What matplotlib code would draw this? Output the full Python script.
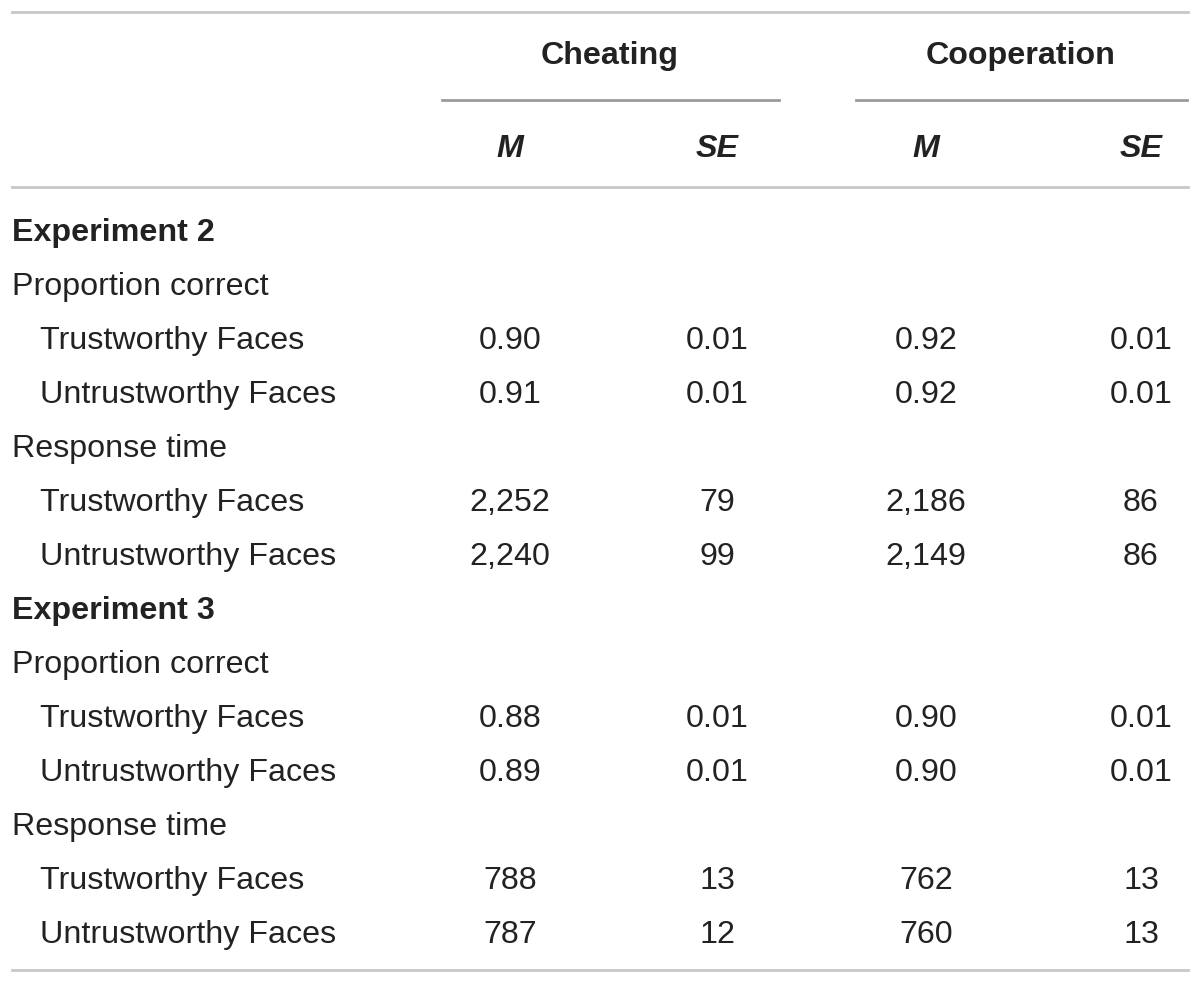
import matplotlib
matplotlib.use("Agg")
import matplotlib.pyplot as plt

plt.rcParams['font.family'] = ['Liberation Sans', 'DejaVu Sans']

groups = ["Cheating", "Cooperation"]
stats = ["M", "SE"]

row_labels = [
    "Experiment 2",
    "Proportion correct",
    "Trustworthy Faces",
    "Untrustworthy Faces",
    "Response time",
    "Trustworthy Faces",
    "Untrustworthy Faces",
    "Experiment 3",
    "Proportion correct",
    "Trustworthy Faces",
    "Untrustworthy Faces",
    "Response time",
    "Trustworthy Faces",
    "Untrustworthy Faces",
]
# 0 = section heading (bold), 1 = measure, 2 = indented condition
row_level = [0, 1, 2, 2, 1, 2, 2, 0, 1, 2, 2, 1, 2, 2]

cheat_m = ["", "", "0.90", "0.91", "", "2,252", "2,240",
           "", "", "0.88", "0.89", "", "788", "787"]
cheat_se = ["", "", "0.01", "0.01", "", "79", "99",
            "", "", "0.01", "0.01", "", "13", "12"]
coop_m = ["", "", "0.92", "0.92", "", "2,186", "2,149",
          "", "", "0.90", "0.90", "", "762", "760"]
coop_se = ["", "", "0.01", "0.01", "", "86", "86",
           "", "", "0.01", "0.01", "", "13", "13"]

# layout (pixel coords, text placed on baselines)
W, H = 1200, 984
col_x = [510, 717, 926, 1141]
group_x = [610, 1021]
group_span = [(442, 779), (856, 1187)]
row_base0, row_dy = 241, 54
fs = 23.2
txt = "#222222"

fig = plt.figure(figsize=(W / 100, H / 100), dpi=100)
ax = fig.add_axes([0, 0, 1, 1])
ax.set_xlim(0, W)
ax.set_ylim(H, 0)
ax.axis("off")

# rules
ax.plot([12, 1188], [12, 12], color="#c8c8c8", lw=2)
ax.plot([12, 1188], [187, 187], color="#c8c8c8", lw=2)
ax.plot([12, 1188], [970, 970], color="#c8c8c8", lw=2)
for (x0, x1) in group_span:
    ax.plot([x0, x1], [100, 100], color="#9a9a9a", lw=2)

for gx, g in zip(group_x, groups):
    ax.text(gx, 64, g, ha="center", va="baseline", fontsize=fs,
            fontweight="bold", color=txt)
for i, cx in enumerate(col_x):
    ax.text(cx, 157, stats[i % 2], ha="center", va="baseline", fontsize=fs,
            fontweight="bold", fontstyle="italic", color=txt)

cols = [cheat_m, cheat_se, coop_m, coop_se]
for r, lab in enumerate(row_labels):
    y = row_base0 + r * row_dy
    lvl = row_level[r]
    x = 12 if lvl < 2 else 40
    ax.text(x, y, lab, ha="left", va="baseline", fontsize=fs,
            fontweight="bold" if lvl == 0 else "normal", color=txt)
    for cx, col in zip(col_x, cols):
        if col[r]:
            ax.text(cx, y, col[r], ha="center", va="baseline",
                    fontsize=fs, color=txt)

fig.savefig("out.png", dpi=100, facecolor="white")
